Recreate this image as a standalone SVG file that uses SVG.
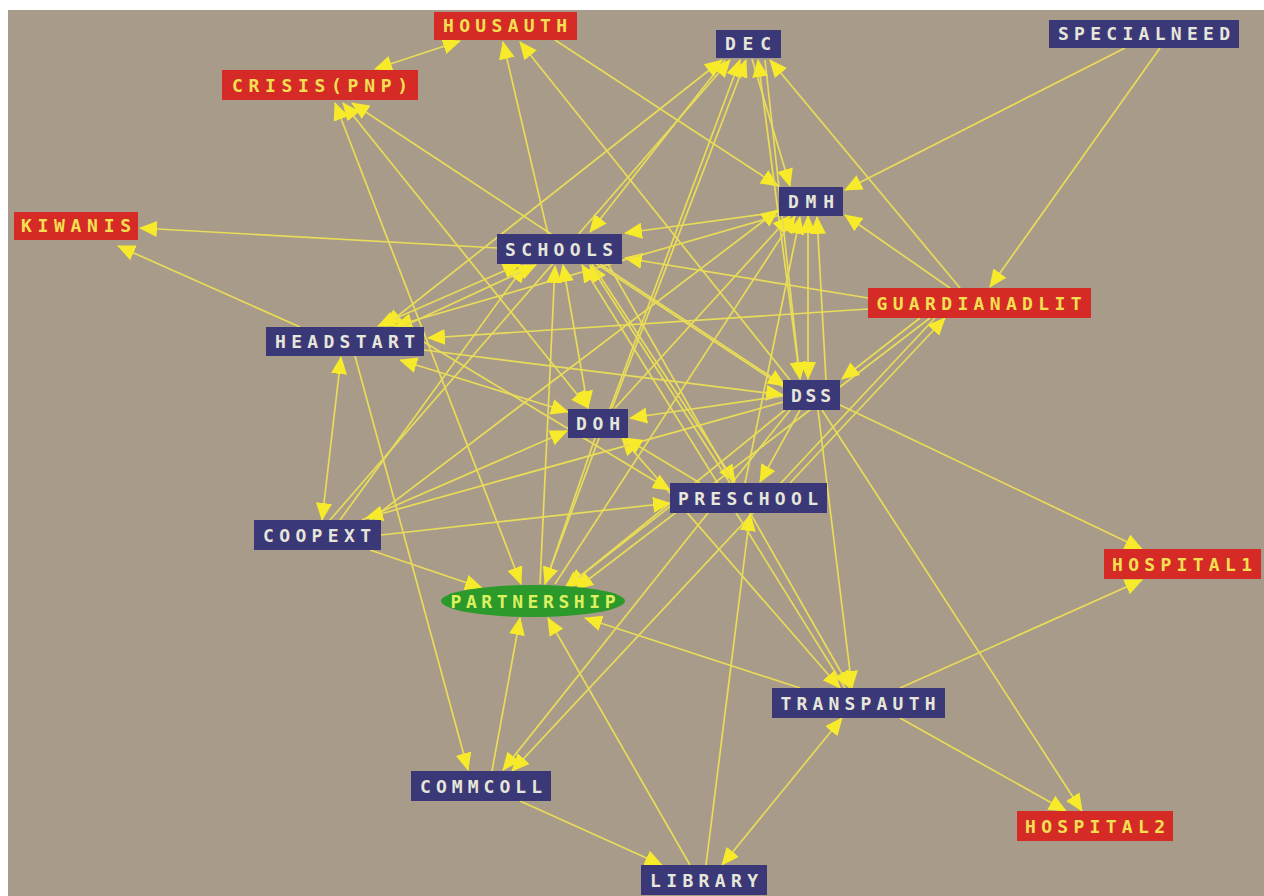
<svg xmlns="http://www.w3.org/2000/svg" width="1264" height="896" viewBox="0 0 1264 896">
<style>
.bg{fill:#a99b89}
.e line{stroke:#e8dc58;stroke-width:1.7;marker-end:url(#ah)}
.e line.d{marker-start:url(#ah)}
.b rect{fill:#3b3878}
.r rect{fill:#d62a26}
text{font-family:"DejaVu Sans Mono","Liberation Mono",monospace;font-weight:bold;font-size:18px;text-anchor:middle;lengthAdjust:spacing}
.b text{fill:#e6e6da}
.r text{fill:#f2e052}
.g ellipse{fill:#2b9a2a}
.g text{fill:#dcf060}
</style>
<defs>
<marker id="ah" markerUnits="userSpaceOnUse" markerWidth="18" markerHeight="16" refX="17" refY="8" orient="auto-start-reverse" viewBox="0 0 18 16">
<path d="M0,0 L18,8 L0,16 z" fill="#f6ea2a"/>
</marker>
</defs>
<rect width="1264" height="896" fill="#ffffff"/>
<rect class="bg" x="8" y="10" width="1256" height="886"/>
<g id="connectors" class="e">
<line class="d" x1="375" y1="69" x2="460" y2="41"/>
<line x1="497" y1="248" x2="140" y2="228"/>
<line x1="300" y1="327" x2="118" y2="246"/>
<line class="d" x1="521" y1="584" x2="335" y2="103"/>
<line class="d" x1="588" y1="408" x2="343" y2="103"/>
<line x1="785" y1="388" x2="352" y2="103"/>
<line x1="548" y1="234" x2="503" y2="42"/>
<line x1="790" y1="380" x2="520" y2="42"/>
<line x1="555" y1="40" x2="778" y2="186"/>
<line x1="725" y1="60" x2="590" y2="232"/>
<line class="d" x1="385" y1="326" x2="722" y2="60"/>
<line x1="330" y1="520" x2="730" y2="60"/>
<line x1="545" y1="583" x2="740" y2="60"/>
<line x1="612" y1="408" x2="746" y2="60"/>
<line x1="752" y1="59" x2="790" y2="186"/>
<line class="d" x1="800" y1="379" x2="758" y2="60"/>
<line x1="960" y1="288" x2="770" y2="60"/>
<line x1="1125" y1="48" x2="845" y2="190"/>
<line x1="1160" y1="48" x2="990" y2="287"/>
<line x1="950" y1="288" x2="845" y2="215"/>
<line x1="779" y1="212" x2="625" y2="233"/>
<line x1="868" y1="298" x2="625" y2="258"/>
<line x1="868" y1="309" x2="428" y2="338"/>
<line class="d" x1="400" y1="360" x2="568" y2="412"/>
<line x1="424" y1="350" x2="783" y2="395"/>
<line x1="600" y1="264" x2="785" y2="386"/>
<line class="d" x1="520" y1="264" x2="378" y2="326"/>
<line x1="780" y1="215" x2="395" y2="326"/>
<line class="d" x1="563" y1="265" x2="588" y2="408"/>
<line x1="340" y1="520" x2="525" y2="265"/>
<line x1="402" y1="327" x2="536" y2="265"/>
<line x1="730" y1="483" x2="590" y2="265"/>
<line x1="540" y1="584" x2="555" y2="266"/>
<line x1="845" y1="688" x2="582" y2="265"/>
<line class="d" x1="808" y1="216" x2="808" y2="379"/>
<line x1="615" y1="408" x2="790" y2="216"/>
<line x1="555" y1="584" x2="795" y2="216"/>
<line x1="370" y1="520" x2="778" y2="210"/>
<line x1="745" y1="483" x2="800" y2="217"/>
<line x1="826" y1="380" x2="817" y2="217"/>
<line x1="355" y1="356" x2="468" y2="770"/>
<line x1="790" y1="410" x2="503" y2="770"/>
<line x1="935" y1="318" x2="512" y2="771"/>
<line x1="492" y1="771" x2="520" y2="618"/>
<line x1="520" y1="801" x2="662" y2="865"/>
<line x1="690" y1="865" x2="548" y2="618"/>
<line x1="706" y1="865" x2="750" y2="514"/>
<line class="d" x1="842" y1="718" x2="722" y2="865"/>
<line x1="800" y1="688" x2="585" y2="618"/>
<line x1="818" y1="410" x2="852" y2="688"/>
<line class="d" x1="622" y1="438" x2="840" y2="688"/>
<line x1="900" y1="688" x2="1142" y2="580"/>
<line x1="840" y1="405" x2="1142" y2="549"/>
<line x1="822" y1="410" x2="1082" y2="811"/>
<line x1="900" y1="718" x2="1066" y2="811"/>
<line x1="381" y1="535" x2="670" y2="503"/>
<line x1="370" y1="550" x2="482" y2="588"/>
<line class="d" x1="341" y1="357" x2="322" y2="520"/>
<line x1="362" y1="520" x2="567" y2="431"/>
<line x1="783" y1="402" x2="366" y2="518"/>
<line x1="595" y1="438" x2="545" y2="584"/>
<line x1="785" y1="410" x2="568" y2="586"/>
<line x1="672" y1="505" x2="565" y2="588"/>
<line x1="930" y1="318" x2="576" y2="589"/>
<line x1="783" y1="396" x2="630" y2="418"/>
<line x1="700" y1="483" x2="625" y2="438"/>
<line x1="920" y1="318" x2="842" y2="379"/>
<line x1="790" y1="483" x2="945" y2="318"/>
<line x1="800" y1="410" x2="760" y2="482"/>
<line x1="592" y1="264" x2="735" y2="482"/>
<line x1="765" y1="60" x2="800" y2="379"/>
<line x1="608" y1="264" x2="850" y2="688"/>
<line x1="424" y1="342" x2="670" y2="490"/>
</g>
<g id="n-housauth" class="r"><rect x="434" y="12" width="143" height="28"/><text x="505" y="32" textLength="124">HOUSAUTH</text></g>
<g id="n-crisis" class="r"><rect x="222" y="70" width="196" height="30"/><text x="320" y="92" textLength="176">CRISIS(PNP)</text></g>
<g id="n-dec" class="b"><rect x="716" y="30" width="65" height="28"/><text x="748" y="50" textLength="46">DEC</text></g>
<g id="n-specialneed" class="b"><rect x="1049" y="20" width="190" height="28"/><text x="1144" y="40" textLength="172">SPECIALNEED</text></g>
<g id="n-kiwanis" class="r"><rect x="14" y="212" width="124" height="28"/><text x="76" y="232" textLength="110">KIWANIS</text></g>
<g id="n-dmh" class="b"><rect x="779" y="187" width="64" height="29"/><text x="811" y="208" textLength="46">DMH</text></g>
<g id="n-schools" class="b"><rect x="497" y="234" width="125" height="30"/><text x="559" y="256" textLength="108">SCHOOLS</text></g>
<g id="n-guardianadlit" class="r"><rect x="868" y="288" width="223" height="30"/><text x="979" y="310" textLength="205">GUARDIANADLIT</text></g>
<g id="n-headstart" class="b"><rect x="266" y="327" width="158" height="29"/><text x="345" y="348" textLength="140">HEADSTART</text></g>
<g id="n-dss" class="b"><rect x="783" y="380" width="57" height="30"/><text x="811" y="402" textLength="40">DSS</text></g>
<g id="n-doh" class="b"><rect x="568" y="409" width="60" height="29"/><text x="598" y="430" textLength="44">DOH</text></g>
<g id="n-preschool" class="b"><rect x="670" y="483" width="157" height="30"/><rect x="672" y="485" width="52" height="26" fill="#141414"/><text x="748" y="505" textLength="140">PRESCHOOL</text></g>
<g id="n-coopext" class="b"><rect x="254" y="520" width="127" height="30"/><text x="317" y="542" textLength="108">COOPEXT</text></g>
<g id="n-hospital1" class="r"><rect x="1104" y="549" width="157" height="30"/><text x="1182" y="571" textLength="140">HOSPITAL1</text></g>
<g id="n-partnership" class="g"><ellipse cx="533" cy="601" rx="92" ry="16"/><text x="533" y="608" textLength="165">PARTNERSHIP</text></g>
<g id="n-transpauth" class="b"><rect x="772" y="688" width="173" height="30"/><text x="858" y="710" textLength="155">TRANSPAUTH</text></g>
<g id="n-commcoll" class="b"><rect x="411" y="771" width="140" height="30"/><text x="481" y="793" textLength="122">COMMCOLL</text></g>
<g id="n-hospital2" class="r"><rect x="1017" y="811" width="156" height="30"/><text x="1095" y="833" textLength="140">HOSPITAL2</text></g>
<g id="n-library" class="b"><rect x="641" y="865" width="126" height="30"/><text x="704" y="887" textLength="108">LIBRARY</text></g>
</svg>
